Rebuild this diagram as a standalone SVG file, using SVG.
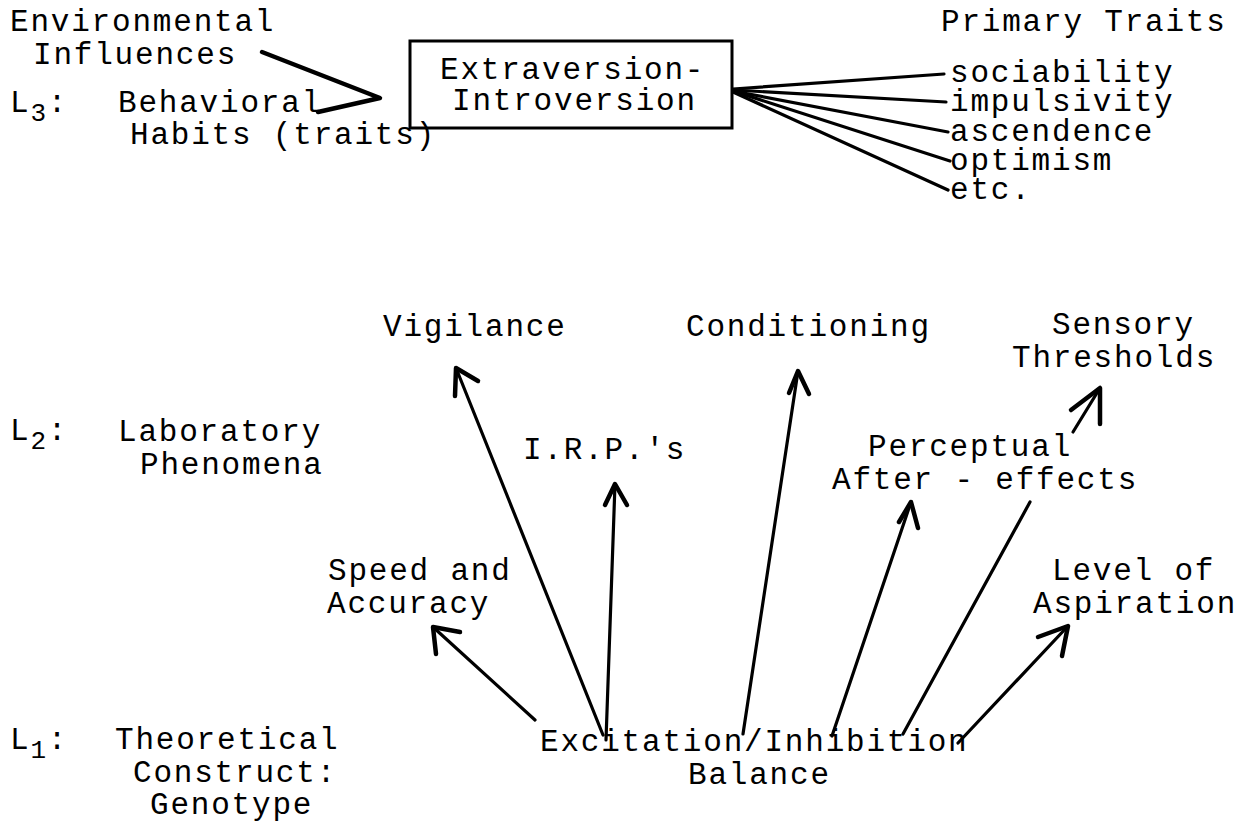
<svg xmlns="http://www.w3.org/2000/svg" width="1247" height="821" viewBox="0 0 1247 821">
<style>
text{font-family:"Liberation Mono","DejaVu Sans Mono",monospace;font-size:31px;letter-spacing:1.8px;fill:#000}
.sub{font-size:26px}
.ln{stroke:#000;stroke-width:3.2;fill:none;stroke-linecap:round;stroke-linejoin:round}
.hd{stroke:#000;stroke-width:4.5;fill:none;stroke-linecap:round;stroke-linejoin:round}
</style>
<rect width="1247" height="821" fill="#fff"/>
<g id="levels">
<text x="10" y="112">L<tspan class="sub" dy="9">3</tspan><tspan dy="-9">:</tspan></text>
<text x="10" y="440">L<tspan class="sub" dy="9">2</tspan><tspan dy="-9">:</tspan></text>
<text x="10" y="749">L<tspan class="sub" dy="9">1</tspan><tspan dy="-9">:</tspan></text>
</g>
<g id="env"><text x="10" y="31">Environmental</text><text x="33" y="64">Influences</text></g>
<g id="habits"><text x="118" y="112">Behavioral</text><text x="130" y="144">Habits (traits)</text></g>
<g id="ei">
<rect x="410" y="41" width="322" height="87" fill="none" stroke="#000" stroke-width="3"/>
<text x="440" y="79">Extraversion-</text><text x="452" y="110">Introversion</text>
</g>
<g id="traits">
<text x="941" y="31">Primary Traits</text>
<text x="950" y="82">sociability</text>
<text x="950" y="111">impulsivity</text>
<text x="950" y="141">ascendence</text>
<text x="950" y="170">optimism</text>
<text x="950" y="199">etc.</text>
</g>
<g id="l2nodes">
<text x="118" y="441">Laboratory</text><text x="140" y="474">Phenomena</text>
<text x="383" y="336">Vigilance</text>
<text x="686" y="336">Conditioning</text>
<text x="1052" y="334">Sensory</text><text x="1012" y="367">Thresholds</text>
<text x="523" y="459">I.R.P.'s</text>
<text x="868" y="456">Perceptual</text><text x="832" y="489">After - effects</text>
<text x="328" y="580">Speed and</text><text x="327" y="613">Accuracy</text>
<text x="1052" y="580">Level of</text><text x="1033" y="613">Aspiration</text>
</g>
<g id="l1nodes">
<text x="115" y="749">Theoretical</text><text x="133" y="782">Construct:</text><text x="150" y="814">Genotype</text>
<text x="540" y="751">Excitation/Inhibition</text><text x="688" y="784">Balance</text>
</g>
<g id="connectors">
<polyline class="hd" points="262,52 380,98 318,112"/>
<line class="ln" x1="733" y1="89" x2="944" y2="74"/>
<line class="ln" x1="733" y1="90" x2="946" y2="102"/>
<line class="ln" x1="733" y1="91" x2="948" y2="132"/>
<line class="ln" x1="733" y1="91" x2="950" y2="161"/>
<line class="ln" x1="733" y1="92" x2="948" y2="190"/>
<line class="ln" x1="535" y1="720" x2="433" y2="627"/>
<polyline class="hd" points="436,654 433,627 460,632"/>
<line class="ln" x1="603" y1="735" x2="456" y2="368"/>
<polyline class="hd" points="455,396 456,368 478,381"/>
<line class="ln" x1="606" y1="740" x2="615" y2="484"/>
<polyline class="hd" points="605,505 615,484 627,505"/>
<line class="ln" x1="743" y1="734" x2="798" y2="371"/>
<polyline class="hd" points="789,393 798,371 809,394"/>
<line class="ln" x1="832" y1="736" x2="911" y2="502"/>
<polyline class="hd" points="899,522 911,502 918,528"/>
<line class="ln" x1="903" y1="734" x2="1030" y2="502"/>
<line class="ln" x1="1073" y1="432" x2="1100" y2="388"/>
<polyline class="hd" points="1071,410 1100,388 1100,424"/>
<line class="ln" x1="958" y1="743" x2="1068" y2="626"/>
<polyline class="hd" points="1038,637 1068,626 1062,656"/>
</g>
</svg>
